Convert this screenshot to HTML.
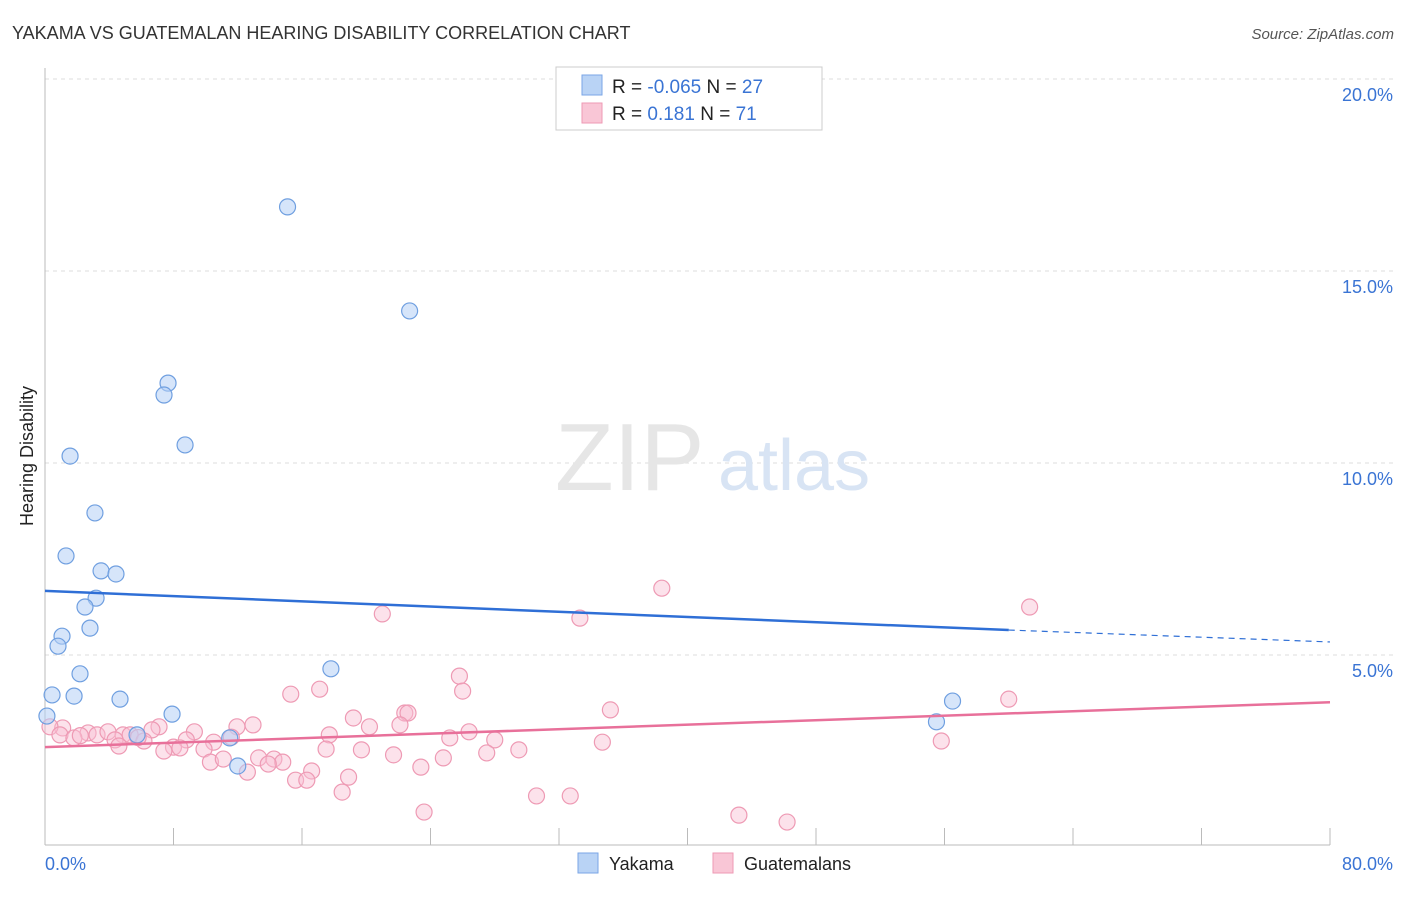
<!DOCTYPE html>
<html><head><meta charset="utf-8"><style>
body{margin:0;background:#fff;font-family:"Liberation Sans",sans-serif;}
svg text{font-family:"Liberation Sans",sans-serif;}
</style></head><body>
<svg width="1406" height="892" viewBox="0 0 1406 892">
<text x="12" y="39" font-size="18" fill="#333">YAKAMA VS GUATEMALAN HEARING DISABILITY CORRELATION CHART</text>
<text x="1394" y="39" font-size="15" fill="#555" font-style="italic" text-anchor="end">Source: ZipAtlas.com</text>
<g id="grid"></g>
<text x="555" y="490" font-size="96" fill="#e6e6e6" font-family="Liberation Serif">ZIP</text>
<text x="718" y="490" font-size="72" fill="#d8e4f4">atlas</text>
<line x1="45" y1="68" x2="45" y2="845" stroke="#bbb"/>
<line x1="45" y1="845" x2="1330" y2="845" stroke="#bbb"/>
<g id="ticks"></g>
<text x="33" y="456" font-size="18" fill="#222" transform="rotate(-90 33 456)" text-anchor="middle">Hearing Disability</text>
<text x="45" y="870" font-size="18" fill="#3a74d4">0.0%</text>
<text x="1393" y="870" font-size="18" fill="#3a74d4" text-anchor="end">80.0%</text>
<g id="pts"></g>
<g id="lines"></g>
<g>
<rect x="556" y="67" width="266" height="63" fill="#fff" stroke="#ccc"/>
<rect x="582" y="75" width="20" height="20" fill="#b9d3f5" stroke="#7aa6e6"/>
<rect x="582" y="103" width="20" height="20" fill="#f9c6d6" stroke="#ee9ab4"/>
<text x="612" y="93" font-size="19" fill="#222">R = <tspan fill="#3a74d4">-0.065</tspan>   N = <tspan fill="#3a74d4">27</tspan></text>
<text x="612" y="120" font-size="19" fill="#222">R =    <tspan fill="#3a74d4">0.181</tspan>   N =  <tspan fill="#3a74d4">71</tspan></text>
</g>
<g>
<rect x="578" y="853" width="20" height="20" fill="#b9d3f5" stroke="#7aa6e6"/>
<text x="609" y="870" font-size="18" fill="#222">Yakama</text>
<rect x="713" y="853" width="20" height="20" fill="#f9c6d6" stroke="#ee9ab4"/>
<text x="744" y="870" font-size="18" fill="#222">Guatemalans</text>
</g>
</svg>
<script>
const yTicks=[5,10,15,20];
const yTickLabels=["5.0%","10.0%","15.0%","20.0%"];
const xTicks=[0,10,20,30,40,50,60,70,80];
const yakamaX=[15.1,22.7,7.66,7.41,8.72,1.56,3.11,1.31,3.49,4.42,3.18,2.49,2.80,1.06,0.81,17.8,2.18,0.44,1.81,4.67,56.5,7.91,0.12,55.5,11.5,5.73,12.0];
const yakamaY=[16.67,13.96,12.08,11.77,10.47,10.18,8.70,7.58,7.19,7.11,6.48,6.25,5.70,5.49,5.23,4.64,4.51,3.96,3.93,3.85,3.80,3.46,3.41,3.26,2.84,2.92,2.11];
const guatX=[38.4,61.3,21.0,33.3,25.8,26.0,17.1,15.3,60.0,35.2,22.4,22.6,19.2,22.1,20.2,12.95,11.95,7.1,6.66,1.1,0.31,0.93,2.68,3.24,3.92,4.86,5.3,9.3,26.4,17.7,11.6,25.2,28.0,1.8,4.36,6.16,8.8,10.5,34.7,55.8,4.6,8.0,7.4,8.4,9.9,17.5,19.7,29.5,27.5,21.7,24.8,13.3,14.25,14.8,10.3,11.1,13.9,23.4,16.6,12.6,18.9,15.6,16.3,18.5,30.6,32.7,23.6,43.2,46.2,2.2,5.8];
const guatY=[6.74,6.25,6.07,5.96,4.45,4.06,4.11,3.98,3.85,3.57,3.49,3.49,3.36,3.18,3.13,3.18,3.13,3.13,3.05,3.10,3.13,2.92,2.97,2.92,3.0,2.92,2.92,3.0,3.0,2.92,2.86,2.84,2.79,2.84,2.79,2.76,2.79,2.73,2.73,2.76,2.63,2.60,2.50,2.58,2.55,2.55,2.53,2.53,2.45,2.40,2.32,2.32,2.29,2.21,2.21,2.29,2.16,2.08,1.98,1.95,1.82,1.74,1.74,1.43,1.33,1.33,0.91,0.83,0.65,2.9,2.85];
const yakamaTrend=[6.67,5.65,5.34];
const guatTrend=[2.60,3.77];
const NS="http://www.w3.org/2000/svg";
const sx=v=>45+v*(1285/80), sy=v=>847-v*38.4;
function mk(t,a,p){const e=document.createElementNS(NS,t);for(const k in a)e.setAttribute(k,a[k]);document.getElementById(p).appendChild(e);return e;}
yTicks.forEach((t,i)=>{
 const l=mk('line',{x1:45,x2:1394,y1:sy(t),y2:sy(t),stroke:'#ddd','stroke-dasharray':'4,4'},'grid');
 
 
 const tx=mk('text',{x:1393,y:sy(t)+22,'font-size':18,fill:'#3a74d4','text-anchor':'end'},'grid');
 tx.textContent=yTickLabels[i];
 
 
});
const xt=[];for(let v=0;v<=80;v+=8)xt.push(v);
xt.forEach(v=>{const l=mk('line',{x1:sx(v),x2:sx(v),y1:828,y2:845,stroke:'#bbb'},'ticks');
 
 });
guatX.forEach((x,i)=>{const c=mk('circle',{cx:sx(x),cy:sy(guatY[i]),r:8,fill:'rgba(248,190,210,0.45)',stroke:'#ee9ab4','stroke-width':1.2},'pts');
 
 });
yakamaX.forEach((x,i)=>{const c=mk('circle',{cx:sx(x),cy:sy(yakamaY[i]),r:8,fill:'rgba(180,208,245,0.55)',stroke:'#6f9fe0','stroke-width':1.2},'pts');
 
 });
let l=mk('line',{x1:sx(0),y1:sy(yakamaTrend[0]),x2:sx(60),y2:sy(yakamaTrend[1]),stroke:'#2f6fd6','stroke-width':2.5},'lines');


l=mk('line',{x1:sx(60),y1:sy(yakamaTrend[1]),x2:sx(80),y2:sy(yakamaTrend[2]),stroke:'#2f6fd6','stroke-width':1.2,'stroke-dasharray':'6,5'},'lines');


l=mk('line',{x1:sx(0),y1:sy(guatTrend[0]),x2:sx(80),y2:sy(guatTrend[1]),stroke:'#e8709a','stroke-width':2.5},'lines');


</script>
</body></html>
